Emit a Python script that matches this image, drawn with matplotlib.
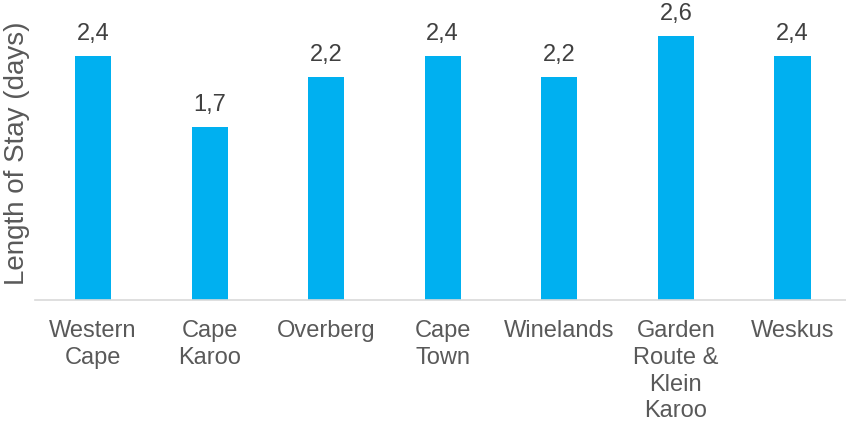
import matplotlib
matplotlib.use("Agg")
import matplotlib.pyplot as plt

categories = ["Western\nCape", "Cape\nKaroo", "Overberg", "Cape\nTown", "Winelands",
              "Garden\nRoute &\nKlein\nKaroo", "Weskus"]
values = [2.4, 1.7, 2.2, 2.4, 2.2, 2.6, 2.4]
value_labels = ["2,4", "1,7", "2,2", "2,4", "2,2", "2,6", "2,4"]
y_label = "Length of Stay (days)"

plt.rcParams['font.family'] = ['Liberation Sans', 'DejaVu Sans']

W, H = 846, 425
fig = plt.figure(figsize=(W / 100, H / 100), dpi=100)
left_px, right_px = 34.7, 850.8
base_px, top_px = 300, 5
ax = fig.add_axes([left_px / W, (H - base_px) / H, (right_px - left_px) / W, (base_px - top_px) / H])

x = list(range(len(categories)))
bars = ax.bar(x, values, width=0.31, color="#00B0F0", zorder=2)
ax.set_xlim(-0.5, len(categories) - 0.5)
ax.set_ylim(0, (base_px - top_px) / 101.5)

for xi, v, lab in zip(x, values, value_labels):
    ax.annotate(lab, (xi, v), xytext=(0, 8), textcoords="offset points",
                ha="center", va="bottom", fontsize=17, color="#404040")

ax.set_xticks(x)
ax.set_xticklabels(categories, fontsize=17, color="#595959", linespacing=1.28)
ax.tick_params(axis="x", length=0, pad=14.5)
ax.set_yticks([])
for s in ["top", "right", "left"]:
    ax.spines[s].set_visible(False)
ax.spines["bottom"].set_color("#D9D9D9")
ax.spines["bottom"].set_linewidth(1.2)

fig.text(17 / W, 1 - 153 / H, y_label, rotation=90, ha="center", va="center",
         fontsize=20, color="#595959")

fig.savefig("out.png", dpi=100)
